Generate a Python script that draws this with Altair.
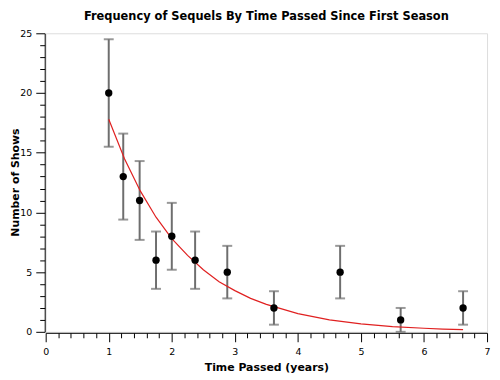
import altair as alt
import pandas as pd

# Observed data
years = [1.0, 1.23, 1.49, 1.75, 2.0, 2.37, 2.88, 3.62, 4.67, 5.63, 6.62]
shows = [20, 13, 11, 6, 8, 6, 5, 2, 5, 1, 2]
err_low = [15.5, 9.4, 7.7, 3.6, 5.2, 3.6, 2.8, 0.6, 2.8, 0.0, 0.6]
err_high = [24.5, 16.6, 14.3, 8.4, 10.8, 8.4, 7.2, 3.4, 7.2, 2.0, 3.4]

# Fitted curve
fit_x = [1.0, 1.25, 1.5, 1.75, 2.0, 2.25, 2.5, 2.75, 3.0, 3.25, 3.5, 4.0, 4.5, 5.0, 5.5, 6.0, 6.3, 6.62]
fit_y = [17.8, 14.5, 11.8, 9.6, 7.8, 6.4, 5.2, 4.2, 3.45, 2.8, 2.3, 1.52, 1.0, 0.67, 0.44, 0.30, 0.23, 0.18]

x_ticks = [0, 0.2, 0.4, 0.6, 0.8, 1, 1.2, 1.4, 1.6, 1.8, 2, 2.2, 2.4, 2.6, 2.8, 3, 3.2, 3.4, 3.6, 3.8,
           4, 4.2, 4.4, 4.6, 4.8, 5, 5.2, 5.4, 5.6, 5.8, 6, 6.2, 6.4, 6.6, 6.8, 7]
y_ticks = list(range(0, 26))

df = pd.DataFrame({"x": years, "y": shows, "lo": err_low, "hi": err_high})
fit = pd.DataFrame({"x": fit_x, "y": fit_y})

FONT = "DejaVu Sans"

x_axis = alt.Axis(
    values=x_ticks, tickCount=len(x_ticks) + 5,
    labelExpr="abs(datum.value - round(datum.value)) < 0.001 ? format(datum.value, 'd') : ''",
    tickSize={"condition": {"test": "abs(datum.value - round(datum.value)) < 0.001", "value": 9}, "value": 5},
    grid=False, domainColor="black", tickColor="black", labelColor="black",
    labelFont=FONT, labelFontSize=9.5, labelPadding=5, labelFlush=False, labelOverlap=False,
    title="Time Passed (years)", titleFont=FONT, titleFontSize=11, titleFontWeight="bold",
    titleColor="black", titlePadding=5, offset=1,
)
y_axis = alt.Axis(
    values=y_ticks, tickCount=len(y_ticks) + 5,
    labelExpr="datum.value % 5 === 0 ? format(datum.value, 'd') : ''",
    tickSize={"condition": {"test": "datum.value % 5 === 0", "value": 9}, "value": 5},
    grid=False, domainColor="black", tickColor="black", labelColor="black",
    labelFont=FONT, labelFontSize=9.5, labelPadding=4, labelFlush=False, labelOverlap=False,
    title="Number of Shows", titleFont=FONT, titleFontSize=11, titleFontWeight="bold",
    titleColor="black", titleX=-26, titleY=150, titleAngle=270, titleAlign="center",
    titleBaseline="alphabetic", offset=1,
)

xs = alt.Scale(domain=[0, 7], nice=False, zero=False)
ys = alt.Scale(domain=[0, 25], nice=False)

base = alt.Chart(df)

bars = base.mark_rule(color="#6e6e6e", strokeWidth=2).encode(
    x=alt.X("x:Q", scale=xs, axis=x_axis), y=alt.Y("lo:Q", scale=ys, axis=y_axis), y2="hi:Q"
)
cap_lo = base.mark_tick(color="#6e6e6e", orient="horizontal", size=10, thickness=2).encode(
    x="x:Q", y="lo:Q"
)
cap_hi = base.mark_tick(color="#6e6e6e", orient="horizontal", size=10, thickness=2).encode(
    x="x:Q", y="hi:Q"
)
curve = alt.Chart(fit).mark_line(color="#e02020", strokeWidth=1.2).encode(x="x:Q", y="y:Q")
pts = base.mark_circle(color="black", size=55, opacity=1).encode(x="x:Q", y="y:Q")

chart = alt.layer(bars, cap_lo, cap_hi, curve, pts).properties(
    width=445, height=301,
    title=alt.TitleParams("Frequency of Sequels By Time Passed Since First Season",
                          font=FONT, fontSize=11.5, fontWeight="bold", color="black",
                          anchor="middle", offset=6),
    autosize=alt.AutoSizeParams(type="none"),
    padding={"left": 38, "top": 24, "right": 5, "bottom": 40},
).configure_view(stroke=None).configure(background="white")

chart.save("out.html", embed_options={"renderer": "svg", "actions": False})
